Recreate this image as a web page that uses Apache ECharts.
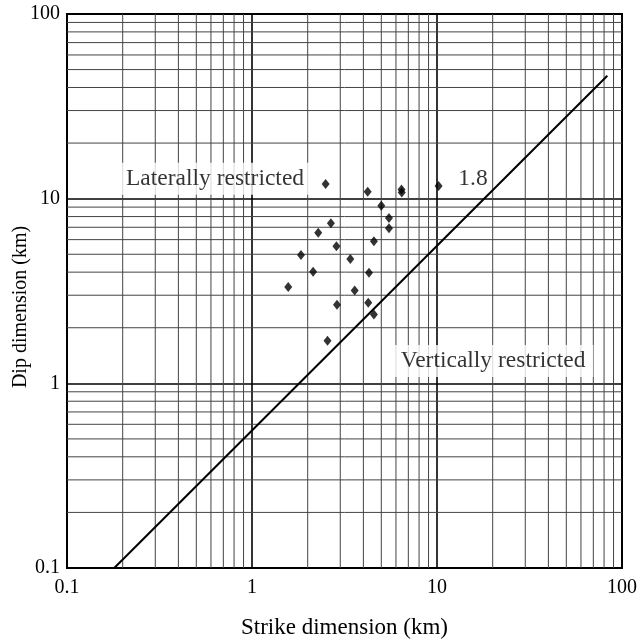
<!DOCTYPE html>
<html>
<head>
<meta charset="utf-8">
<script src="https://cdn.jsdelivr.net/npm/echarts@6/dist/echarts.min.js"></script>
<style>html,body{margin:0;padding:0;background:#fff}#c{width:639px;height:641px}</style>
</head>
<body>
<div id="c"></div>
<script>
// ---- data ----
const strikeKm = [2.50, 4.22, 6.43, 6.45, 10.2, 5.00, 5.50, 2.67, 2.28, 5.50, 4.56, 2.86, 1.84, 3.40, 2.14, 4.29, 1.57, 3.59, 2.88, 4.25, 4.56, 2.56];
const dipKm    = [12.0, 10.9, 11.2, 10.8, 11.7, 9.16, 7.86, 7.36, 6.54, 6.91, 5.88, 5.52, 4.95, 4.71, 4.02, 3.97, 3.32, 3.18, 2.66, 2.73, 2.36, 1.70];
const ratioLineX = [0.18, 83.3];
const ratioLineY = [0.1, 46.3];
const axisMin = 0.1, axisMax = 100;
const tickLabels = ['0.1', '1', '10', '100'];
const minorGrid = [0.2,0.3,0.4,0.5,0.6,0.7,0.8,0.9, 2,3,4,5,6,7,8,9, 20,30,40,50,60,70,80,90];
const annotTexts = ['Laterally restricted', '1.8', 'Vertically restricted'];
const annotX = [0.631, 15.65, 20.1];
const annotY = [12.8, 12.8, 1.32];
const annotBoxed = [true, false, true];
const xTitle = 'Strike dimension (km)';
const yTitle = 'Dip dimension (km)';

const FONT = '"Liberation Serif", "Times New Roman", serif';
const chart = echarts.init(document.getElementById('c'), null, {renderer: 'canvas'});

function gridRender(vertical) {
  return function (params, api) {
    const v = api.value(0);
    const a = vertical ? api.coord([v, axisMin]) : api.coord([axisMin, v]);
    const b = vertical ? api.coord([v, axisMax]) : api.coord([axisMax, v]);
    return {
      type: 'line',
      shape: {x1: a[0], y1: a[1], x2: b[0], y2: b[1]},
      style: {stroke: '#444', lineWidth: 1}
    };
  };
}

const logAxis = (name, isX) => ({
  type: 'log', logBase: 10, min: axisMin, max: axisMax,
  name: name, nameLocation: 'middle', nameGap: isX ? 48 : 36, nameMoveOverlap: false,
  nameTextStyle: {fontFamily: FONT, fontSize: isX ? 23 : 20, color: '#000',
                  padding: isX ? 0 : [0, 32, 0, 0]},
  axisLine: {show: true, lineStyle: {color: '#000', width: 2}},
  axisTick: {show: false},
  axisLabel: {
    fontFamily: FONT, fontSize: 20, color: '#000', margin: isX ? 10 : 7,
    formatter: (v) => {
      const i = Math.round(Math.log10(v)) + 1;
      return tickLabels[i] !== undefined ? tickLabels[i] : '';
    }
  },
  splitLine: {show: true, lineStyle: {color: '#000', width: 1.6}}
});

chart.setOption({
  animation: false,
  backgroundColor: '#fff',
  grid: {left: 67, top: 14, width: 555, height: 554, containLabel: false, outerBoundsMode: 'none',
         show: true, borderColor: '#000', borderWidth: 2, backgroundColor: 'transparent'},
  xAxis: logAxis(xTitle, true),
  yAxis: logAxis(yTitle, false),
  series: [
    {type: 'custom', z: 1, silent: true, renderItem: gridRender(true), data: minorGrid.map(v => [v]), clip: true},
    {type: 'custom', z: 1, silent: true, renderItem: gridRender(false), data: minorGrid.map(v => [v]), clip: true},
    {type: 'line', z: 4, silent: true, symbol: 'none',
     lineStyle: {color: '#000', width: 2},
     data: ratioLineX.map((x, i) => [x, ratioLineY[i]])},
    {type: 'scatter', z: 5, silent: true, symbolSize: 0,
     data: annotTexts.map((t, i) => ({
       value: [annotX[i], annotY[i]],
       label: {show: true, position: 'inside', formatter: t,
               fontFamily: FONT, fontSize: 23.5, color: '#000',
               backgroundColor: annotBoxed[i] ? '#fff' : 'transparent', padding: [4, 8]}
     }))},
    {type: 'scatter', z: 10, silent: true, symbol: 'diamond', symbolSize: [8, 10],
     itemStyle: {color: '#000'},
     data: strikeKm.map((x, i) => [x, dipKm[i]])}
  ]
});
</script>
</body>
</html>
